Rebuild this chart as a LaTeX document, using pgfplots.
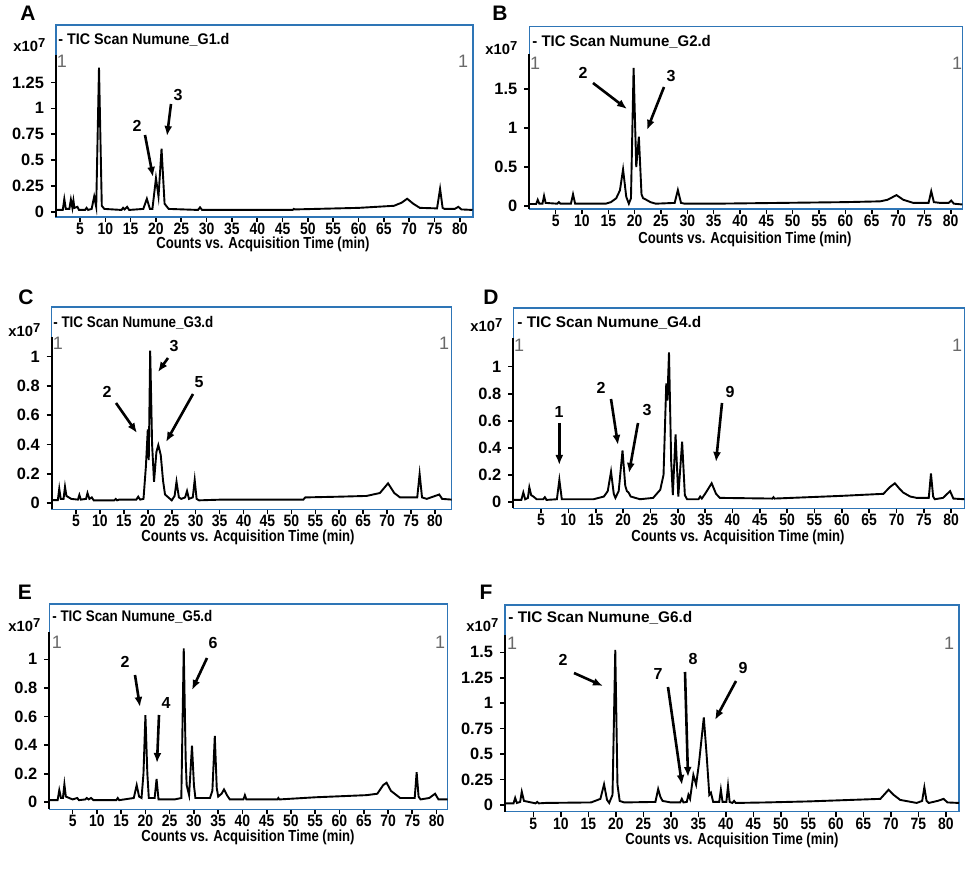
\documentclass[border=0pt]{standalone}
\usepackage{fontspec}
\setmainfont{Liberation Sans}
\usepackage{pgfplots}
\pgfplotsset{compat=1.18}
\usetikzlibrary{arrows.meta}
\definecolor{frameblue}{RGB}{46,117,182}
\definecolor{grayone}{RGB}{105,105,105}

\pgfplotsset{chrom/.style={
  scale only axis,
  axis line style={frameblue, line width=0.75pt},
  tick style={black, line width=0.8pt},
  tick align=outside,
  major tick length=2.5pt,
  xtick pos=bottom, ytick pos=left,
  xtick={5,10,...,80},
  /pgf/number format/assume math mode=true,
  tick label style={font=\bfseries\fontsize{8.2}{9}\selectfont},
  xticklabel style={xscale=0.85, inner sep=0.4pt},
}}
\tikzset{ann/.style={-{Latex[length=5pt,width=4pt]}, line width=1.3pt},
  numlab/.style={font=\bfseries\fontsize{8}{9}\selectfont},
  ttl/.style={anchor=west, inner sep=0pt, font=\bfseries\fontsize{7.7}{9}\selectfont},
  xtn/.style={anchor=west, inner sep=0pt, font=\bfseries\fontsize{7.4}{9}\selectfont},
  one/.style={font=\fontsize{9}{10}\selectfont, text=grayone},
  xl/.style={font=\bfseries\fontsize{8}{9}\selectfont, xscale=0.82},
  letter/.style={font=\bfseries\fontsize{10.5}{12}\selectfont}}
\newcommand{\xten}{x10\raisebox{0.55ex}{\fontsize{6.5}{7}\selectfont 7}}

\begin{document}
\begin{tikzpicture}
\path[use as bounding box] (0,0) rectangle (484.5pt,-443pt);

% ---------- A ----------
\begin{axis}[chrom, at={(28pt,-108.5pt)}, anchor=south west,
  width=208.5pt, height=96pt,
  xmin=0.26, xmax=82.6, ymin=-0.048, ymax=1.804,
  ytick={0,0.25,0.5,0.75,1,1.25}, yticklabels={0,0.25,0.5,0.75,1,1.25}]
\addplot[black, line width=0.95pt, mark=none] coordinates {
(0.3,0.02) (1.6,0.02) (1.9,0.125) (2.2,0.03) (2.9,0.03) (3.2,0.12) (3.5,0.04) (3.7,0.11) (3.9,0.04) (4.5,0.05) (4.8,0.02) (6.0,0.02) (6.3,0.04) (6.6,0.02) (7.3,0.03) (7.8,0.15) (8.2,0.05) (8.75,1.393) (9.3,0.06) (9.8,0.03) (13.2,0.02) (13.5,0.04) (13.8,0.025) (14.3,0.05) (14.7,0.02) (17.5,0.03) (18.2,0.128) (18.8,0.03) (19.3,0.03) (20.0,0.327) (20.5,0.15) (21.1,0.61) (21.7,0.08) (22.5,0.03) (28.3,0.02) (28.7,0.045) (29.1,0.02) (35.5,0.02) (47,0.02) (47.2,0.03) (47.4,0.025) (60,0.04) (67,0.06) (68.5,0.09) (69.6,0.128) (70.8,0.08) (72.1,0.04) (75.5,0.035) (76.1,0.224) (76.6,0.04) (77,0.03) (79,0.03) (79.7,0.05) (80.3,0.025) (82.5,0.02)};
\end{axis}

% ---------- B ----------
\begin{axis}[chrom, at={(264.65pt,-104.5pt)}, anchor=south west,
  width=216.5pt, height=91.15pt,
  xmin=0, xmax=82.2, ymin=-0.038, ymax=2.30,
  ytick={0,0.5,1,1.5}, yticklabels={0,0.5,1,1.5}]
\addplot[black, line width=0.95pt, mark=none] coordinates {
(0,0.026) (1.3,0.026) (1.6,0.08) (1.9,0.03) (2.5,0.03) (2.8,0.13) (3.1,0.04) (5.3,0.03) (5.6,0.05) (5.9,0.03) (7.9,0.03) (8.3,0.15) (8.7,0.03) (14.5,0.03) (15.5,0.05) (16.5,0.1) (17.2,0.2) (17.8,0.47) (18.4,0.12) (18.9,0.03) (19.3,0.1) (19.8,1.773) (20.3,0.50) (20.8,0.89) (21.3,0.15) (21.6,0.10) (22.2,0.08) (23.0,0.05) (24,0.03) (27.6,0.04) (28.2,0.205) (28.8,0.04) (29.5,0.03) (35,0.03) (47.6,0.04) (60,0.05) (66.6,0.06) (68,0.08) (69.7,0.14) (71,0.08) (72.9,0.04) (75.8,0.04) (76.3,0.19) (76.8,0.05) (78,0.04) (79.6,0.04) (80.1,0.07) (80.6,0.03) (82.2,0.02)};
\end{axis}

% ---------- C ----------
\begin{axis}[chrom, at={(25.85pt,-254.65pt)}, anchor=south west,
  width=200pt, height=101.15pt,
  xmin=-0.08, xmax=83.5, ymin=-0.041, ymax=1.338,
  ytick={0,0.2,0.4,0.6,0.8,1}, yticklabels={0,0.2,0.4,0.6,0.8,1}]
\addplot[black, line width=0.95pt, mark=none] coordinates {
(0,0.022) (1.2,0.022) (1.5,0.10) (1.8,0.03) (2.4,0.03) (2.7,0.113) (3.0,0.05) (4,0.03) (5.4,0.025) (5.7,0.057) (6.0,0.025) (7.1,0.03) (7.4,0.07) (7.8,0.03) (8.3,0.04) (8.7,0.02) (13,0.02) (13.3,0.03) (13.6,0.02) (14,0.025) (17.6,0.025) (18.0,0.045) (18.4,0.025) (19.1,0.03) (19.6,0.25) (20.0,0.504) (20.2,0.295) (20.5,1.04) (20.9,0.4) (21.3,0.147) (21.8,0.35) (22.2,0.397) (22.7,0.33) (23.2,0.15) (23.6,0.06) (25,0.02) (25.6,0.05) (26.0,0.147) (26.5,0.04) (27,0.03) (27.8,0.04) (28.2,0.084) (28.6,0.03) (29.4,0.04) (29.8,0.159) (30.2,0.03) (30.7,0.02) (35.4,0.025) (52.5,0.025) (52.9,0.04) (60,0.045) (65.7,0.05) (68.5,0.07) (70.2,0.136) (71.5,0.07) (72.7,0.04) (76.3,0.04) (76.8,0.2) (77.3,0.04) (78.3,0.03) (80.9,0.06) (81.5,0.03) (83.5,0.025)};
\end{axis}

% ---------- D ----------
\begin{axis}[chrom, at={(256.65pt,-254.15pt)}, anchor=south west,
  width=225.5pt, height=100.15pt,
  xmin=-0.07, xmax=82.4, ymin=-0.047, ymax=1.434,
  ytick={0,0.2,0.4,0.6,0.8,1}, yticklabels={0,0.2,0.4,0.6,0.8,1}]
\addplot[black, line width=0.95pt, mark=none] coordinates {
(0,0.015) (1.4,0.015) (1.76,0.07) (2.1,0.02) (2.6,0.03) (2.86,0.108) (3.2,0.05) (3.6,0.04) (4.2,0.02) (5.4,0.02) (5.7,0.035) (6.0,0.015) (7.9,0.02) (8.35,0.163) (8.8,0.02) (14.6,0.02) (16.5,0.04) (17.2,0.08) (17.8,0.224) (18.3,0.06) (18.6,0.03) (19.2,0.08) (19.9,0.38) (20.4,0.12) (20.7,0.08) (21.0,0.07) (21.4,0.04) (23.1,0.02) (25.5,0.03) (26.8,0.09) (27.4,0.2) (27.9,0.877) (28.1,0.75) (28.4,1.106) (28.8,0.3) (29.1,0.05) (29.6,0.50) (30.1,0.04) (30.8,0.446) (31.3,0.05) (31.7,0.02) (33.8,0.02) (34.1,0.04) (34.4,0.025) (35.0,0.06) (36.2,0.138) (37.0,0.06) (37.7,0.03) (47.3,0.025) (47.5,0.035) (47.7,0.025) (60,0.045) (67.6,0.06) (68.8,0.11) (69.7,0.138) (70.5,0.1) (71.2,0.07) (72.5,0.04) (73.7,0.03) (75.9,0.03) (76.3,0.21) (76.7,0.04) (77,0.02) (78.5,0.03) (79.8,0.08) (80.4,0.025) (82.4,0.02)};
\end{axis}

% ---------- E ----------
\begin{axis}[chrom, at={(24.65pt,-404.65pt)}, anchor=south west,
  width=199.2pt, height=102.65pt,
  xmin=0.19, xmax=82.3, ymin=-0.049, ymax=1.387,
  ytick={0,0.2,0.4,0.6,0.8,1}, yticklabels={0,0.2,0.4,0.6,0.8,1}]
\addplot[black, line width=0.95pt, mark=none] coordinates {
(0.2,0.015) (1.9,0.015) (2.25,0.085) (2.6,0.03) (3.0,0.03) (3.3,0.126) (3.6,0.04) (5.0,0.02) (5.95,0.03) (6.3,0.015) (7.6,0.02) (7.9,0.03) (8.3,0.02) (8.8,0.03) (9.3,0.015) (14,0.015) (14.3,0.03) (14.6,0.015) (17.6,0.03) (18.2,0.12) (18.7,0.04) (19.2,0.03) (19.6,0.2) (20.0,0.61) (20.4,0.2) (20.7,0.03) (21.9,0.03) (22.3,0.163) (22.7,0.02) (26,0.02) (27.4,0.03) (27.9,1.077) (28.3,0.3) (28.5,0.12) (29.0,0.05) (29.6,0.396) (30.0,0.12) (30.3,0.03) (33.3,0.03) (33.8,0.08) (34.3,0.464) (34.7,0.1) (35.0,0.04) (35.7,0.06) (36.2,0.09) (36.8,0.05) (37.4,0.02) (40.2,0.02) (40.5,0.05) (40.8,0.02) (47.2,0.02) (47.4,0.03) (47.6,0.02) (55,0.035) (65.6,0.05) (67.8,0.06) (69.0,0.12) (69.7,0.137) (70.6,0.08) (72.5,0.03) (75.5,0.03) (75.9,0.21) (76.3,0.04) (76.7,0.02) (78.5,0.03) (79.7,0.06) (80.4,0.02) (82.3,0.02)};
\end{axis}

% ---------- F ----------
\begin{axis}[chrom, at={(252.5pt,-405.85pt)}, anchor=south west,
  width=227pt, height=103.35pt,
  xmin=-0.15, xmax=82.4, ymin=-0.066, ymax=1.965,
  ytick={0,0.25,0.5,0.75,1,1.25,1.5}, yticklabels={0,0.25,0.5,0.75,1,1.25,1.5}]
\addplot[black, line width=0.95pt, mark=none] coordinates {
(0,0.016) (1.4,0.016) (1.7,0.07) (2.0,0.02) (2.6,0.03) (2.9,0.13) (3.3,0.04) (5.4,0.016) (5.7,0.03) (6.0,0.016) (7.2,0.02) (15.5,0.025) (17.2,0.06) (17.86,0.203) (18.4,0.05) (18.8,0.02) (19.4,0.1) (19.9,1.523) (20.3,0.2) (20.7,0.04) (21.5,0.025) (27.2,0.03) (27.7,0.157) (28.1,0.08) (28.5,0.04) (30,0.025) (31.7,0.025) (32.0,0.06) (32.3,0.025) (32.9,0.03) (33.2,0.1) (33.5,0.06) (34.1,0.295) (34.6,0.2) (35.1,0.4) (36.0,0.861) (36.5,0.5) (37.0,0.1) (37.3,0.12) (37.7,0.03) (38.8,0.03) (39.1,0.15) (39.4,0.03) (40.1,0.03) (40.4,0.187) (40.7,0.03) (41.2,0.02) (41.5,0.04) (41.8,0.02) (47.3,0.025) (55,0.035) (68.1,0.06) (69.6,0.15) (70.5,0.1) (71.7,0.05) (74.7,0.02) (75.7,0.04) (76.1,0.174) (76.5,0.04) (76.9,0.02) (78.5,0.04) (79.6,0.06) (80.3,0.025) (82.4,0.02)};
\end{axis}

% ---------- decorations in pixel units ----------
\begin{scope}[x=0.5pt,y=-0.5pt]
% panel letters
\node[letter] at (28,13) {A};
\node[letter] at (500,13) {B};
\node[letter] at (26,297) {C};
\node[letter] at (491,297) {D};
\node[letter] at (25,592) {E};
\node[letter] at (486,592) {F};
% black left axis lines
\draw[black, line width=1pt] (56,55) -- (56,217);
\draw[black, line width=1pt] (529.3,54) -- (529.3,209);
\draw[black, line width=1pt] (51.7,337) -- (51.7,509.3);
\draw[black, line width=1pt] (513.3,338) -- (513.3,508.3);
\draw[black, line width=1pt] (49.3,632) -- (49.3,809.3);
\draw[black, line width=1pt] (505,635) -- (505,811.7);
% titles
\node[ttl, xscale=0.93] at (58,40) {- TIC Scan Numune\_G1.d};
\node[ttl, xscale=0.97] at (532,42) {- TIC Scan Numune\_G2.d};
\node[ttl, xscale=0.87] at (53,323) {- TIC Scan Numune\_G3.d};
\node[ttl, xscale=1.0] at (517,323) {- TIC Scan Numune\_G4.d};
\node[ttl, xscale=0.87] at (52,617) {- TIC Scan Numune\_G5.d};
\node[ttl, xscale=1.0] at (508,618) {- TIC Scan Numune\_G6.d};
% x10^7
\node[xtn] at (13,45) {\xten};
\node[xtn] at (485,48) {\xten};
\node[xtn] at (8,330) {\xten};
\node[xtn] at (470,325) {\xten};
\node[xtn] at (8,625) {\xten};
\node[xtn] at (466,625) {\xten};
% grey 1 markers
\node[one] at (62,61) {1};   \node[one] at (463,61) {1};
\node[one] at (535,63) {1};  \node[one] at (957,63) {1};
\node[one] at (58,343) {1};  \node[one] at (444,343) {1};
\node[one] at (519,345) {1}; \node[one] at (957,345) {1};
\node[one] at (57,642) {1};  \node[one] at (440,642) {1};
\node[one] at (512,643) {1}; \node[one] at (949,643) {1};
% x labels
\node[xl] at (263,244.5) {Counts vs. Acquisition Time (min)};
\node[xl] at (745,239) {Counts vs. Acquisition Time (min)};
\node[xl] at (248,537) {Counts vs. Acquisition Time (min)};
\node[xl] at (738,537) {Counts vs. Acquisition Time (min)};
\node[xl] at (248,837) {Counts vs. Acquisition Time (min)};
\node[xl] at (732,840) {Counts vs. Acquisition Time (min)};
% annotations A
\node[numlab] at (137,126) {2}; \draw[ann] (145,135) -- (153,177);
\node[numlab] at (178,95) {3};  \draw[ann] (171,104) -- (167,136);
% B
\node[numlab] at (583,73) {2}; \draw[ann] (593,83) -- (627,109);
\node[numlab] at (671,76) {3}; \draw[ann] (664,87) -- (647,130);
% C
\node[numlab] at (107,392) {2}; \draw[ann] (116,403) -- (137,433);
\node[numlab] at (174,346) {3}; \draw[ann] (168,358) -- (158,372);
\node[numlab] at (199,382) {5}; \draw[ann] (193,394) -- (166,442);
% D
\node[numlab] at (559,412) {1}; \draw[ann] (559.3,423) -- (559.3,465);
\node[numlab] at (601,388) {2}; \draw[ann] (611,399) -- (618,445);
\node[numlab] at (647,410) {3}; \draw[ann] (638,423) -- (629,473);
\node[numlab] at (730,392) {9}; \draw[ann] (722,403) -- (716,462);
% E
\node[numlab] at (125,662) {2}; \draw[ann] (135,675) -- (140,707);
\node[numlab] at (166,703) {4}; \draw[ann] (159,715) -- (157,763);
\node[numlab] at (213,643) {6}; \draw[ann] (207,658) -- (192,690);
% F
\node[numlab] at (563,660) {2}; \draw[ann] (574,673) -- (603,686);
\node[numlab] at (658,674) {7}; \draw[ann] (668,687) -- (682,785);
\node[numlab] at (693,659) {8}; \draw[ann] (685,672) -- (688,777);
\node[numlab] at (743,668) {9}; \draw[ann] (736,681) -- (715,720);
\end{scope}
\end{tikzpicture}
\end{document}
